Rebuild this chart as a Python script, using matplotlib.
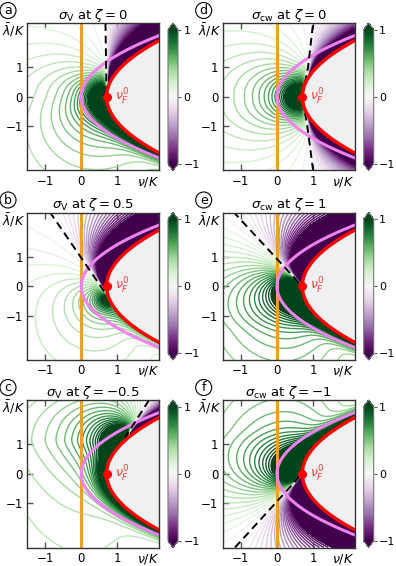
import numpy as np
import matplotlib
matplotlib.use('Agg')
import matplotlib.pyplot as plt
from matplotlib.colors import Normalize
from matplotlib.cm import ScalarMappable

# (units of K)
nu_F0 = 0.7
red_lam = [-2.6, -2.0, -1.4, -1.0, -0.5, 0.0, 0.5, 1.0, 1.4, 2.0, 2.6]
red_nu = [3.40, 2.30, 1.48, 1.10, 0.80, 0.70, 0.80, 1.10, 1.48, 2.30, 3.40]
pink_lam = [-2.6, -2.0, -1.4, -1.0, -0.5, 0.0, 0.5, 1.0, 1.4, 2.0, 2.6]
pink_nu = [3.38, 2.00, 0.98, 0.50, 0.125, 0.0, 0.125, 0.50, 0.98, 2.00, 3.38]

panels = ['a', 'd', 'b', 'e', 'c', 'f']
titles = {
    'a': r'$\sigma_{\rm V}$ at $\zeta = 0$',
    'b': r'$\sigma_{\rm V}$ at $\zeta = 0.5$',
    'c': r'$\sigma_{\rm V}$ at $\zeta = -0.5$',
    'd': r'$\sigma_{\rm cw}$ at $\zeta = 0$',
    'e': r'$\sigma_{\rm cw}$ at $\zeta = 1$',
    'f': r'$\sigma_{\rm cw}$ at $\zeta = -1$',
}

# dashed sign-change line, from the outer end to the end on the Fermi line
dash_lam = {
    'a': [2.5, 0.0],
    'b': [2.52, -0.4],
    'c': [2.49, 1.22],
    'd': [-2.5, -1.0, 0.0, 1.0, 2.5],
    'e': [2.53, 0.0],
    'f': [-2.5, 0.0],
}
dash_nu = {
    'a': [0.67, 0.70],
    'b': [-0.87, 0.76],
    'c': [1.87, 1.21],
    'd': [1.0, 0.84, 0.70, 0.86, 1.0],
    'e': [-1.21, 0.70],
    'f': [-1.16, 0.70],
}
ends_on_red = {'a': True, 'b': True, 'c': True, 'd': False, 'e': True, 'f': True}
focus = {'a': (0.70, 0.0), 'b': (0.76, -0.4), 'c': (1.21, 1.22),
         'd': (0.70, 0.0), 'e': (0.70, 0.0), 'f': (0.70, 0.0)}
# how far the sign-change curve runs inside the Fermi line
margin = {'a': 0.5, 'b': 0.15, 'c': 0.15, 'd': 0.0, 'e': 0.15, 'f': 0.15}
# green log strength, purple log strength, green band, purple band
gain = {'a': (0.5, 5.5, 1.2, 1.0), 'b': (0.35, 3.2, 0.35, 1.0),
        'c': (0.7, 3.0, 1.2, 1.0), 'd': (0.55, 3.5, 0.6, 1.0),
        'e': (0.75, 2.5, 1.2, 1.0), 'f': (0.75, 2.5, 1.2, 1.0)}

xlim = (-1.5, 2.15)
ylim = (-2.5, 2.5)
cmap = plt.get_cmap('PRGn')
norm = Normalize(-1, 1)
levels = np.linspace(-1, 1, 41)
levels = levels[np.abs(levels) > 1e-9]

col_x = [27, 222.7]
row_top = [23, 212.5, 400]
W, H = 396, 566
aw, ah = 132, 147.5

red_p = np.polyfit(red_lam, red_nu, 2)
pink_p = np.polyfit(pink_lam, pink_nu, 2)

nu = np.linspace(xlim[0], xlim[1], 500)
lam = np.linspace(ylim[0], ylim[1], 600)
NU, LAM = np.meshgrid(nu, lam)

fine = np.linspace(-4, 4, 1601)
kern = np.exp(-0.5 * (np.linspace(-1.5, 1.5, 301) / 0.3) ** 2)
kern /= kern.sum()


def zero_curve(p):
    lv = np.array(dash_lam[p], float)
    nv = np.array(dash_nu[p], float)
    o = np.argsort(lv)
    ls, ns = lv[o], nv[o]
    z = np.interp(fine, ls, ns)
    lo = fine < ls[0]
    hi = fine > ls[-1]
    z[lo] = ns[0] + (fine[lo] - ls[0]) * (ns[1] - ns[0]) / (ls[1] - ls[0])
    z[hi] = ns[-1] + (fine[hi] - ls[-1]) * (ns[-1] - ns[-2]) / (ls[-1] - ls[-2])
    if ends_on_red[p]:
        le = lv[-1]
        side = -1 if le == ls[0] else 1
        dist = np.clip((fine - le) * side, 0, None)
        inside = np.polyval(red_p, fine) + margin[p] * dist
        z = np.where(dist > 0, np.maximum(z, inside), z)
    z = np.convolve(np.pad(z, 150, mode='edge'), kern, mode='valid')
    return z


fig = plt.figure(figsize=(W / 100, H / 100), dpi=100)

for i, p in enumerate(panels):
    row, col = i // 2, i % 2
    x0 = col_x[col]
    y0 = row_top[row]
    ax = fig.add_axes([x0 / W, 1 - (y0 + ah) / H, aw / W, ah / H])

    nz = np.interp(LAM, fine, zero_curve(p))
    N = nz - NU
    u = np.polyval(red_p, LAM) - NU
    r = np.hypot(NU - focus[p][0], LAM - focus[p][1]) + 1e-3
    X = N / (r ** 1.5 * np.sqrt(np.maximum(u, 1e-6)))
    bp, bn, gp, gn = gain[p]
    f = np.where(X > 0, bp * np.log1p(2.0 * X), -bn * np.log1p(-X))
    band = np.exp(-np.maximum(u, 0) / 0.25) * np.tanh(N / 0.1)
    f = f + np.where(N > 0, gp, gn) * band
    f = np.ma.masked_where(u <= 0, f)

    ax.contourf(NU, LAM, f, levels=[1, 1e12], colors=[cmap(1.0)])
    ax.contourf(NU, LAM, f, levels=[-1e12, -1], colors=[cmap(0.0)])
    ax.contour(NU, LAM, f, levels=levels, colors=[cmap(norm(v)) for v in levels],
               linewidths=1.0)

    lam_c = np.linspace(-3, 3, 400)
    red_c = np.polyval(red_p, lam_c)
    ax.fill_betweenx(lam_c, red_c, 5, color='#f0f0f0', zorder=3)
    ax.axvline(0, color='#f0a020', lw=2.2, zorder=4)
    ax.plot(np.polyval(pink_p, lam_c), lam_c, color='violet', lw=2.2, zorder=5)
    ax.plot(dash_nu[p], dash_lam[p], color='k', lw=1.4, ls=(0, (4, 2.5)), zorder=5)
    ax.plot(red_c, lam_c, color='red', lw=2.5, zorder=6)
    ax.plot([nu_F0], [0], 'o', color='red', ms=5.5, zorder=7)
    ax.text(nu_F0 + 0.22, 0.0, r'$\nu_F^0$', color='#ff3b3b', fontsize=9,
            ha='left', va='center', zorder=8)

    ax.set_xlim(*xlim)
    ax.set_ylim(*ylim)
    ax.set_xticks([-1, 0, 1])
    ax.set_yticks([-1, 0, 1])
    ax.set_xticklabels(['\u22121', '0', '1'])
    ax.set_yticklabels(['\u22121', '0', '1'])
    ax.tick_params(direction='in', top=True, right=True, length=4, width=1,
                   color='#555555', labelsize=8.5, pad=3)
    for s in ax.spines.values():
        s.set_color('#333333')
        s.set_linewidth(1.0)
        s.set_zorder(10)
    ax.set_title(titles[p], fontsize=9.5, pad=3)
    ax.text(1.0, -11.5 / ah, r'$\nu/K$', transform=ax.transAxes, ha='right',
            va='center', fontsize=9)
    ax.text(-0.015, 2.25, r'$\bar{\lambda}/K$', transform=ax.get_yaxis_transform(),
            ha='right', va='center', fontsize=9)

    fig.text((x0 - 19) / W, 1 - (y0 - 12.5) / H, p, fontsize=9, ha='center',
             va='center', bbox=dict(boxstyle='circle,pad=0.12', fc='none',
                                    ec='k', lw=0.8))

    cax = fig.add_axes([(x0 + 141) / W, 1 - (y0 + ah) / H, 10 / W, ah / H])
    cb = fig.colorbar(ScalarMappable(norm=norm, cmap=cmap), cax=cax,
                      extend='both', ticks=[-1, 0, 1])
    cb.ax.set_yticklabels(['\u22121', '0', '1'])
    cb.ax.tick_params(labelsize=8, length=2.5, color='#555555', pad=1.5)
    cb.outline.set_edgecolor('#777777')

fig.savefig('out.png', dpi=100)
